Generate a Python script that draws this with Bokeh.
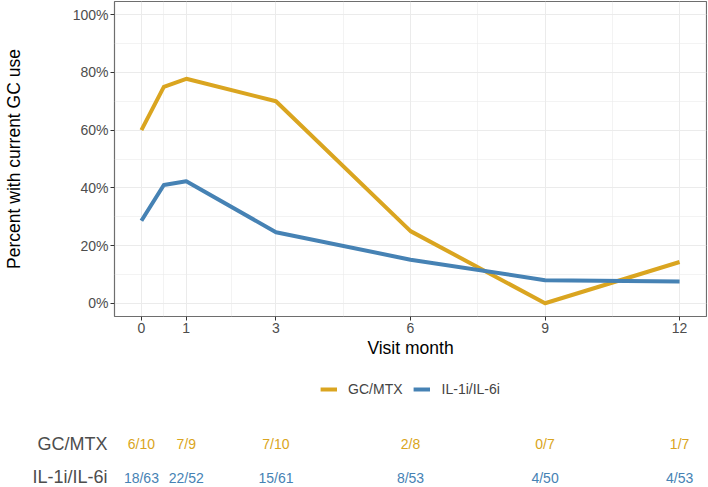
from bokeh.plotting import figure
from bokeh.models import Range1d, FixedTicker, PrintfTickFormatter, Legend, LegendItem
from bokeh.layouts import column
from bokeh.core.properties import value
from bokeh.embed import file_html
from bokeh.resources import INLINE

# ---- data ----
months = [0, 0.5, 1, 3, 6, 9, 12]
gc_pct = [60.0, 75.0, 77.8, 70.0, 25.0, 0.0, 14.3]
il_pct = [28.6, 41.0, 42.3, 24.6, 15.1, 8.0, 7.5]

x_ticks = [0, 1, 3, 6, 9, 12]
x_minor = [0.5, 2, 4.5, 7.5, 10.5]
y_ticks = [0, 20, 40, 60, 80, 100]
y_minor = [10, 30, 50, 70, 90]

table_months = [0, 1, 3, 6, 9, 12]
gc_counts = ["6/10", "7/9", "7/10", "2/8", "0/7", "1/7"]
il_counts = ["18/63", "22/52", "15/61", "8/53", "4/50", "4/53"]

series_names = ["GC/MTX", "IL-1i/IL-6i"]
GOLD = "#DAA520"
BLUE = "#4682B4"
FONT = "Liberation Sans"
BORDER = "#6E6E6E"

# ---- layout constants ----
W = 707
LEFT = 114
RIGHT = 1
X0, X1 = -0.6, 12.6

# ---- main panel ----
p = figure(width=W, height=366, x_range=Range1d(X0, X1), y_range=Range1d(-4.6, 104.6),
           output_backend="svg", toolbar_location=None,
           min_border_left=LEFT, min_border_right=RIGHT, min_border_top=1, min_border_bottom=50)
p.background_fill_color = "white"
p.border_fill_color = "white"
p.outline_line_color = BORDER
p.outline_line_width = 1.2

p.line(months, gc_pct, line_width=4, color=GOLD, line_join="round")
p.line(months, il_pct, line_width=4, color=BLUE, line_join="round")

p.xaxis.ticker = FixedTicker(ticks=x_ticks, minor_ticks=x_minor)
p.yaxis.ticker = FixedTicker(ticks=y_ticks, minor_ticks=y_minor)
p.yaxis.formatter = PrintfTickFormatter(format="%d%%")

for ax in (p.xaxis, p.yaxis):
    ax.axis_line_color = None
    ax.major_tick_out = 4
    ax.major_tick_in = 0
    ax.minor_tick_out = 0
    ax.minor_tick_in = 0
    ax.major_tick_line_color = "#333333"
    ax.major_label_text_font = FONT
    ax.major_label_text_font_size = "14px"
    ax.major_label_text_color = "#4D4D4D"
    ax.axis_label_text_font = FONT
    ax.axis_label_text_font_size = "17.5px"
    ax.axis_label_text_font_style = "normal"
    ax.axis_label_text_color = "black"

p.xaxis.axis_label = "Visit month"
p.xaxis.major_label_standoff = 2
p.xaxis.axis_label_standoff = 2
p.yaxis.axis_label = "Percent with current GC use"
p.yaxis.major_label_standoff = 2
p.yaxis.axis_label_standoff = 46

for g in (p.xgrid, p.ygrid):
    g.grid_line_color = "#EBEBEB"
    g.grid_line_width = 1
    g.minor_grid_line_color = "#EBEBEB"
    g.minor_grid_line_width = 0.6

# ---- legend strip (same frame as the panel; series drawn off-view, only keys show) ----
p_leg = figure(width=W, height=46, x_range=p.x_range, y_range=Range1d(-300, -200),
               output_backend="svg", toolbar_location=None,
               x_axis_location=None, y_axis_location=None,
               min_border_left=LEFT, min_border_right=RIGHT, min_border_top=0, min_border_bottom=0)
p_leg.outline_line_color = None
p_leg.grid.visible = False
p_leg.background_fill_color = "white"
p_leg.border_fill_color = "white"
k_gc = p_leg.line(months, gc_pct, line_width=4, color=GOLD)
k_il = p_leg.line(months, il_pct, line_width=4, color=BLUE)
legend = Legend(items=[LegendItem(label=series_names[0], renderers=[k_gc]),
                       LegendItem(label=series_names[1], renderers=[k_il])],
                orientation="horizontal", location="top_center",
                margin=13, padding=0, spacing=11, glyph_width=17, glyph_height=20,
                label_standoff=11, label_text_font=FONT, label_text_font_size="14px",
                border_line_color=None, background_fill_alpha=0)
p_leg.add_layout(legend, "center")

# ---- count table: row names on a left axis, counts under the panel's x scale ----
H2 = 74
ROW_GC = 31
ROW_IL = 65
p2 = figure(width=W, height=H2, x_range=p.x_range, y_range=Range1d(H2, 0),
            output_backend="svg", toolbar_location=None,
            x_axis_location=None, y_axis_location="left",
            min_border_left=LEFT, min_border_right=RIGHT, min_border_top=0, min_border_bottom=0)
p2.outline_line_color = None
p2.grid.visible = False
p2.background_fill_color = "white"
p2.border_fill_color = "white"

p2.yaxis.ticker = FixedTicker(ticks=[ROW_GC, ROW_IL])
p2.yaxis.major_label_overrides = {ROW_GC: series_names[0], ROW_IL: series_names[1]}
p2.yaxis.axis_line_color = None
p2.yaxis.major_tick_line_color = None
p2.yaxis.major_tick_out = 0
p2.yaxis.major_tick_in = 0
p2.yaxis.minor_tick_out = 0
p2.yaxis.minor_tick_in = 0
p2.yaxis.major_label_standoff = 7
p2.yaxis.major_label_text_font = FONT
p2.yaxis.major_label_text_font_size = "18px"
p2.yaxis.major_label_text_color = "#4D4D4D"

p2.text(x=table_months, y=[ROW_GC] * len(table_months), text=gc_counts,
        text_color=GOLD, text_font=value(FONT), text_font_size="14px",
        text_align="center", text_baseline="middle")
p2.text(x=table_months, y=[ROW_IL] * len(table_months), text=il_counts,
        text_color=BLUE, text_font=value(FONT), text_font_size="14px",
        text_align="center", text_baseline="middle")

layout = column(p, p_leg, p2, spacing=0)
open("out.html", "w").write(file_html(layout, INLINE))
